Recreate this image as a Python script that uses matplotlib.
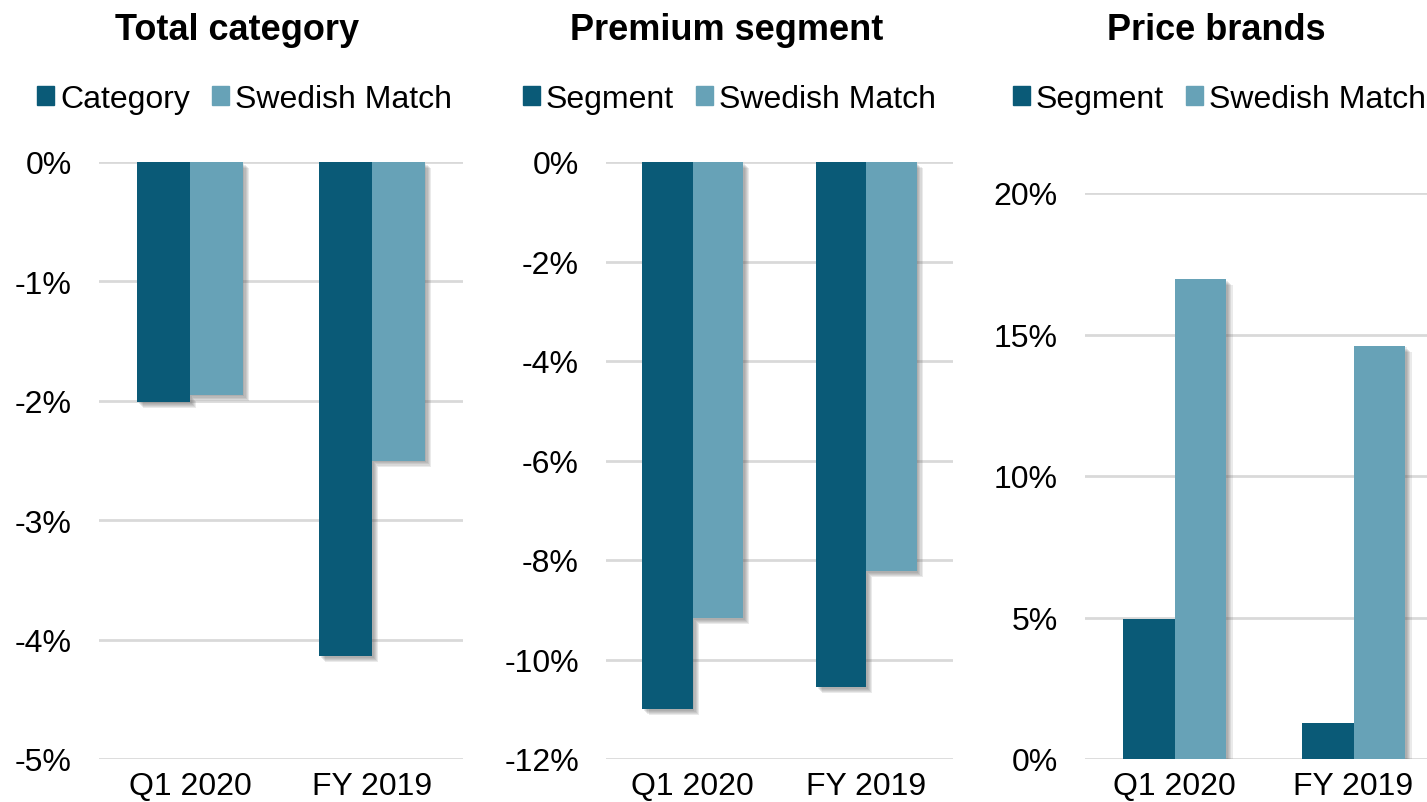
import matplotlib.pyplot as plt
import matplotlib.patheffects as pe
from matplotlib.patches import Patch
import numpy as np

plt.rcParams['font.family'] = ['Liberation Sans', 'DejaVu Sans']

periods = ['Q1 2020', 'FY 2019']

titles = ['Total category', 'Premium segment', 'Price brands']
market_labels = ['Category', 'Segment', 'Segment']

total_category = [-2.01, -4.14]
total_sm = [-1.95, -2.50]

premium_segment = [-11.0, -10.55]
premium_sm = [-9.17, -8.22]

price_segment = [4.95, 1.27]
price_sm = [16.96, 14.6]

dark = '#0A5A77'
light = '#67A2B7'
grid_col = '#D9D9D9'

W, H = 1427, 803
fig = plt.figure(figsize=(W / 100, H / 100), dpi=100)

# axes boxes in pixels: left, right, top, bottom
boxes = [(99, 463, 163, 760), (606, 953, 163, 760), (1085, 1443, 194, 760)]
ylims = [(-5, 0), (-12, 0), (0, 20)]
yticks = [np.arange(-5, 1, 1), np.arange(-12, 1, 2), np.arange(0, 21, 5)]
data = [(total_category, total_sm), (premium_segment, premium_sm),
        (price_segment, price_sm)]
title_x = [237, 727, 1216]
legend_x = [37, 523, 1013]

# soft drop shadow built from a few offset copies
shadow = [pe.SimplePatchShadow(offset=(o, -o), shadow_rgbFace='#606060', alpha=0.13)
          for o in (1.2, 2.0, 2.8, 3.6, 4.4)] + [pe.Normal()]

x = np.arange(len(periods))
w = 0.29
for i in range(3):
    l, r, t, b = boxes[i]
    ax = fig.add_axes([l / W, 1 - b / H, (r - l) / W, (b - t) / H])
    ax.set_xlim(-0.5, 1.5)
    ax.set_ylim(*ylims[i])
    ax.set_yticks(yticks[i])
    ax.set_yticklabels(['%d%%' % v for v in yticks[i]])
    ax.set_xticks(x)
    ax.set_xticklabels(periods)
    ax.grid(axis='y', color=grid_col, lw=2)
    ax.set_axisbelow(True)
    for s in ax.spines.values():
        s.set_visible(False)
    ax.tick_params(length=0, labelsize=23)
    ax.tick_params(axis='y', pad=19.5)
    ax.tick_params(axis='x', pad=9)

    a, bvals = data[i]
    ax.bar(x - w / 2, a, w, color=dark, path_effects=shadow, zorder=3)
    ax.bar(x + w / 2, bvals, w, color=light, path_effects=shadow, zorder=3)

    fig.text(title_x[i] / W, 1 - 30 / H, titles[i], ha='center', va='center',
             fontsize=26, fontweight='bold')

    handles = [Patch(color=dark), Patch(color=light)]
    fig.legend(handles, [market_labels[i], 'Swedish Match'], ncol=2,
               loc='center left', bbox_to_anchor=(legend_x[i] / W, 1 - 100 / H),
               frameon=False, fontsize=23, handlelength=0.53, handleheight=0.53,
               handletextpad=0.19, columnspacing=0.69, borderpad=0,
               borderaxespad=0)

fig.savefig('out.png', dpi=100)
